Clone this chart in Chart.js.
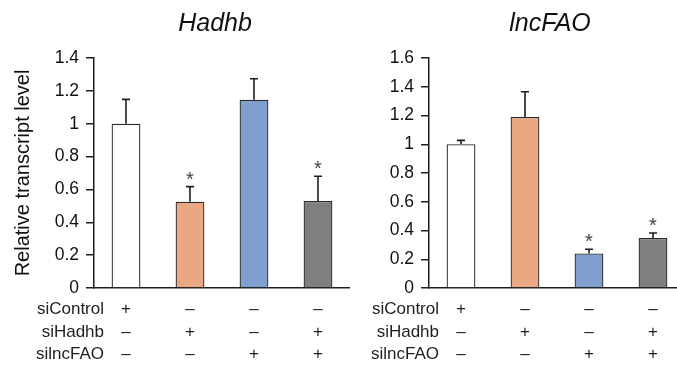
<!DOCTYPE html>
<html>
<head>
<meta charset="utf-8">
<script src="https://cdn.jsdelivr.net/npm/chart.js@4.4.1/dist/chart.umd.min.js"></script>
<style>
  html, body { margin: 0; padding: 0; background: #fff; overflow: hidden; }
  body { width: 677px; height: 367px; position: relative; }
  canvas { position: absolute; top: 0; }
  #hadhb { left: 0; }
  #lncfao { left: 340px; }
</style>
</head>
<body>
<canvas id="hadhb" width="350" height="367"></canvas>
<canvas id="lncfao" width="345" height="367"></canvas>
<script>
// --- data ---
const groups = ['siControl', 'siHadhb', 'silncFAO', 'siHadhb+silncFAO'];
const rowLabels = ['siControl', 'siHadhb', 'silncFAO'];
const siControlRow = ['+', '\u2013', '\u2013', '\u2013'];
const siHadhbRow = ['\u2013', '+', '\u2013', '+'];
const silncFAORow = ['\u2013', '\u2013', '+', '+'];

const hadhbValues = [1.0, 0.525, 1.146, 0.53];
const hadhbErrors = [0.148, 0.092, 0.128, 0.15];
const hadhbStars = [false, true, false, true];
const hadhbTicks = [0, 0.2, 0.4, 0.6, 0.8, 1, 1.2, 1.4];

const lncfaoValues = [1.0, 1.19, 0.24, 0.348];
const lncfaoErrors = [0.027, 0.175, 0.03, 0.035];
const lncfaoStars = [false, false, true, true];
const lncfaoTicks = [0, 0.2, 0.4, 0.6, 0.8, 1, 1.2, 1.4, 1.6];

const barColors = ['#ffffff', '#e9a782', '#7fa0cf', '#7f7f81'];
const FONT = "'Liberation Sans', Arial, sans-serif";
const INK = '#1e1e1e';

// error bars, asterisks and the +/- table underneath
const extras = {
    id: 'extras',
    afterDatasetsDraw(chart) {
        const ctx = chart.ctx;
        const ds = chart.data.datasets[0];
        const yScale = chart.scales.y;
        const bars = chart.getDatasetMeta(0).data;
        ctx.save();
        ctx.strokeStyle = INK;
        ctx.lineWidth = 1.6;
        bars.forEach((bar, i) => {
            const errTop = yScale.getPixelForValue(ds.data[i] + ds.errors[i]);
            ctx.beginPath();
            ctx.moveTo(bar.x, bar.y);
            ctx.lineTo(bar.x, errTop);
            ctx.moveTo(bar.x - 4, errTop);
            ctx.lineTo(bar.x + 4, errTop);
            ctx.stroke();
            if (ds.stars[i]) {
                ctx.fillStyle = '#444';
                ctx.font = '20px ' + FONT;
                ctx.textAlign = 'center';
                ctx.textBaseline = 'alphabetic';
                ctx.fillText('*', bar.x, errTop - 1);
            }
        });
        ctx.restore();
    },
    afterDraw(chart) {
        const ctx = chart.ctx;
        const xScale = chart.scales.x;
        const rows = [siControlRow, siHadhbRow, silncFAORow];
        const baselines = [314, 336.5, 358.5];
        const labelX = xScale.getPixelForValue(0) - 22;
        ctx.save();
        ctx.fillStyle = INK;
        ctx.font = '17px ' + FONT;
        ctx.textBaseline = 'alphabetic';
        rows.forEach((row, r) => {
            ctx.textAlign = 'right';
            ctx.fillText(rowLabels[r], labelX, baselines[r]);
            ctx.textAlign = 'center';
            row.forEach((sign, i) => {
                ctx.fillText(sign, xScale.getPixelForValue(i), baselines[r]);
            });
        });
        ctx.restore();
    }
};

function makeChart(id, title, values, errors, stars, ticks, yWidth, yTitle) {
    return new Chart(document.getElementById(id), {
        type: 'bar',
        data: {
            labels: groups,
            datasets: [{
                data: values,
                errors: errors,
                stars: stars,
                backgroundColor: barColors,
                borderColor: '#2a2a2a',
                borderWidth: 1.3,
                barPercentage: 0.45,
                categoryPercentage: 1
            }]
        },
        options: {
            responsive: false,
            animation: false,
            layout: { padding: 0 },
            plugins: {
                legend: { display: false },
                tooltip: { enabled: false },
                title: {
                    display: true,
                    // two trailing spaces nudge the centred title left like the original
                    text: title + '\u00a0\u00a0',
                    fullSize: false,
                    color: '#111',
                    font: { family: FONT, size: 25, style: 'italic', weight: 'normal' },
                    padding: { top: 9, bottom: 19 }
                }
            },
            scales: {
                x: {
                    grid: { display: false },
                    border: { display: true, color: INK, width: 1.5 },
                    ticks: { display: false },
                    afterFit: s => { s.height = 79; }
                },
                y: {
                    min: 0,
                    max: ticks[ticks.length - 1],
                    afterBuildTicks: s => { s.ticks = ticks.map(v => ({ value: v })); },
                    ticks: {
                        color: '#111',
                        padding: 7,
                        font: { family: FONT, size: 17.5 },
                        callback: v => String(v)
                    },
                    grid: { drawOnChartArea: false, drawTicks: true, tickLength: 8, color: INK, lineWidth: 1.5 },
                    border: { display: true, color: INK, width: 1.5 },
                    title: {
                        display: !!yTitle,
                        text: yTitle || '',
                        color: '#111',
                        font: { family: FONT, size: 20 },
                        padding: { top: 11, bottom: 0 }
                    },
                    afterFit: s => { s.width = yWidth; }
                }
            }
        },
        plugins: [extras]
    });
}

makeChart('hadhb', 'Hadhb', hadhbValues, hadhbErrors, hadhbStars, hadhbTicks, 94, 'Relative transcript level');
makeChart('lncfao', 'lncFAO', lncfaoValues, lncfaoErrors, lncfaoStars, lncfaoTicks, 89, null);
</script>
</body>
</html>
